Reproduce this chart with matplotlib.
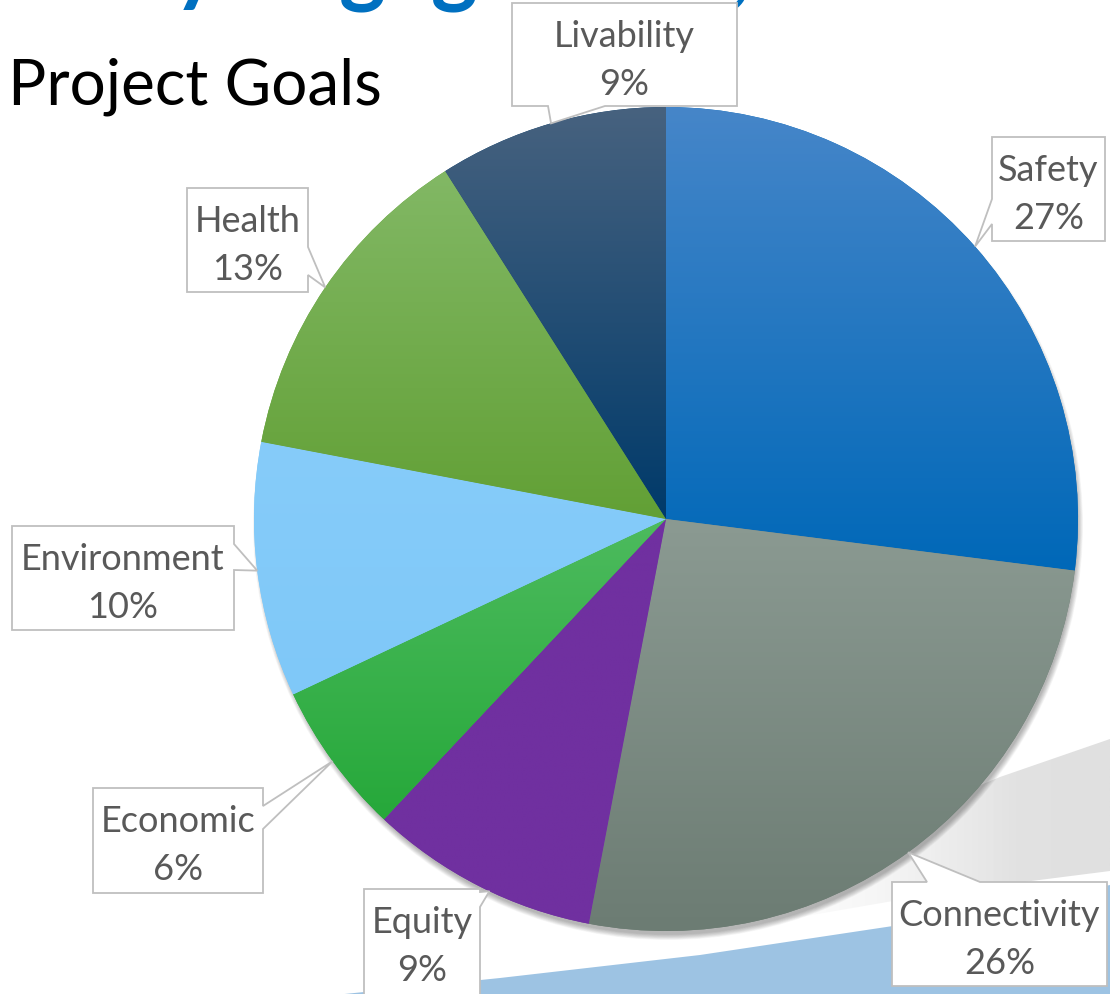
import numpy as np
import matplotlib
matplotlib.use("Agg")
import matplotlib.pyplot as plt
from matplotlib.patches import Polygon, Circle
from matplotlib.colors import to_rgb

plt.rcParams["font.family"] = ["Lato", "DejaVu Sans"]

# ---- data -------------------------------------------------------------
goals = ["Safety", "Connectivity", "Equity", "Economic", "Environment", "Health", "Livability"]
shares = [27, 26, 9, 6, 10, 13, 9]

# vertical gradient per slice (top colour -> bottom colour)
colors_top = ["#4686c9", "#8b9a92", "#7030a0", "#4dbb5e", "#86ccfa", "#82b865", "#47627f"]
colors_bottom = ["#0068b8", "#6c7c73", "#7030a0", "#26a83a", "#7fc8f8", "#62a035", "#003a6a"]

title = "Project Goals"
banner = "Early engagement,"

# ---- layout (pixel space, y pointing down) ----------------------------
W, H = 1110, 995
CX, CY, R = 666, 520, 412

# callout box (x0, y0, x1, y1), side carrying the pointer, pointer base span,
# and where along the slice the pointer tip sits (0..1 of its sweep)
callouts = {
    "Safety": ((992, 138, 1105, 242), "left", (200, 225), 0.5),
    "Connectivity": ((892, 883, 1107, 987), "top", (927, 980), 0.5),
    "Equity": ((364, 890, 480, 1002), "right", (893, 908), 0.45),
    "Economic": ((93, 789, 263, 894), "right", (807, 830), 0.5),
    "Environment": ((12, 527, 234, 631), "right", (545, 571), 0.5),
    "Health": ((187, 189, 308, 293), "right", (248, 276), 0.5),
    "Livability": ((512, 4, 737, 107), "bottom", (548, 605), 0.5),
}

fig = plt.figure(figsize=(W / 100, H / 100), dpi=100)
fig.patch.set_facecolor("white")
ax = fig.add_axes([0, 0, 1, 1])


def gradient_image(c0, c1, n=256, horizontal=False, alpha=None):
    a = np.linspace(0, 1, n)
    c0 = np.array(to_rgb(c0))
    c1 = np.array(to_rgb(c1))
    rgb = c0[None, :] * (1 - a[:, None]) + c1[None, :] * a[:, None]
    if alpha is not None:
        al = np.interp(a, alpha[0], alpha[1])
        rgb = np.concatenate([rgb, al[:, None]], axis=1)
    img = rgb[:, None, :]
    if horizontal:
        img = np.transpose(img, (1, 0, 2))
    return img


# ---- background swoosh ------------------------------------------------
swoosh = Polygon([(760, 880), (880, 828), (1000, 778), (1110, 740),
                  (1110, 872), (1000, 886), (893, 902), (760, 925)],
                 closed=True, facecolor="none", edgecolor="none", zorder=0)
ax.add_patch(swoosh)
im = ax.imshow(gradient_image("#e6e6e6", "#e0e0e0", horizontal=True,
                              alpha=([0.0, 0.35, 0.75, 1.0], [0.0, 0.35, 1.0, 1.0])),
               extent=(760, 1110, 995, 700), aspect="auto", zorder=0.5,
               interpolation="bilinear")
im.set_clip_path(swoosh)

band = Polygon([(335, 996), (500, 979), (700, 956), (893, 927), (1000, 908), (1110, 886),
                (1110, 996)], closed=True, facecolor="#9dc3e3", edgecolor="none", zorder=0.6)
ax.add_patch(band)

# ---- soft shadow under the pie ----------------------------------------
for k in range(10):
    ax.add_patch(Circle((CX + 2, CY + 6), R + 3 - k * 0.6, facecolor="black",
                        edgecolor="none", alpha=0.03, zorder=1))

# ---- pie --------------------------------------------------------------
wedges, _ = ax.pie(shares, radius=R, center=(CX, CY), startangle=-90, counterclock=True,
                   colors=colors_bottom, wedgeprops=dict(linewidth=0))
for w, ct, cb in zip(wedges, colors_top, colors_bottom):
    w.set_zorder(2)
    th = np.radians(np.linspace(w.theta1, w.theta2, 200))
    xs = np.concatenate([[CX], CX + R * np.cos(th)])
    ys = np.concatenate([[CY], CY + R * np.sin(th)])
    g = ax.imshow(gradient_image(ct, cb), extent=(xs.min(), xs.max(), ys.max(), ys.min()),
                  aspect="auto", zorder=2.5, interpolation="bilinear")
    g.set_clip_path(w)


# ---- callouts ---------------------------------------------------------
def callout_vertices(box, side, base, tip):
    x0, y0, x1, y1 = box
    a, b = base
    if side == "top":
        return [(x0, y0), (a, y0), tip, (b, y0), (x1, y0), (x1, y1), (x0, y1)]
    if side == "right":
        return [(x0, y0), (x1, y0), (x1, a), tip, (x1, b), (x1, y1), (x0, y1)]
    if side == "bottom":
        return [(x0, y0), (x1, y0), (x1, y1), (b, y1), tip, (a, y1), (x0, y1)]
    return [(x0, y0), (x1, y0), (x1, y1), (x0, y1), (x0, b), tip, (x0, a)]


for w, name, val in zip(wedges, goals, shares):
    box, side, base, frac = callouts[name]
    ang = np.radians(w.theta1 + frac * (w.theta2 - w.theta1))
    tip = (CX + R * np.cos(ang), CY + R * np.sin(ang))
    ax.add_patch(Polygon(callout_vertices(box, side, base, tip), closed=True,
                         facecolor="white", edgecolor="#bfbfbf", linewidth=1.3, zorder=5))
    xm = (box[0] + box[2]) / 2
    ax.text(xm, box[1] + 43, name, ha="center", va="baseline", fontsize=26,
            color="#595959", zorder=6)
    ax.text(xm, box[1] + 91, f"{val}%", ha="center", va="baseline", fontsize=26,
            color="#595959", zorder=6)

# ---- titles -----------------------------------------------------------
ax.text(8, 105, title, ha="left", va="baseline", fontsize=46, color="black", zorder=6)
ax.text(22, -6, banner, ha="left", va="baseline", fontsize=64, fontweight="bold",
        color="#0070c0", zorder=4)

ax.set_xlim(0, W)
ax.set_ylim(H, 0)
ax.set_aspect("auto")
ax.axis("off")

fig.savefig("out.png", dpi=100, facecolor="white")
